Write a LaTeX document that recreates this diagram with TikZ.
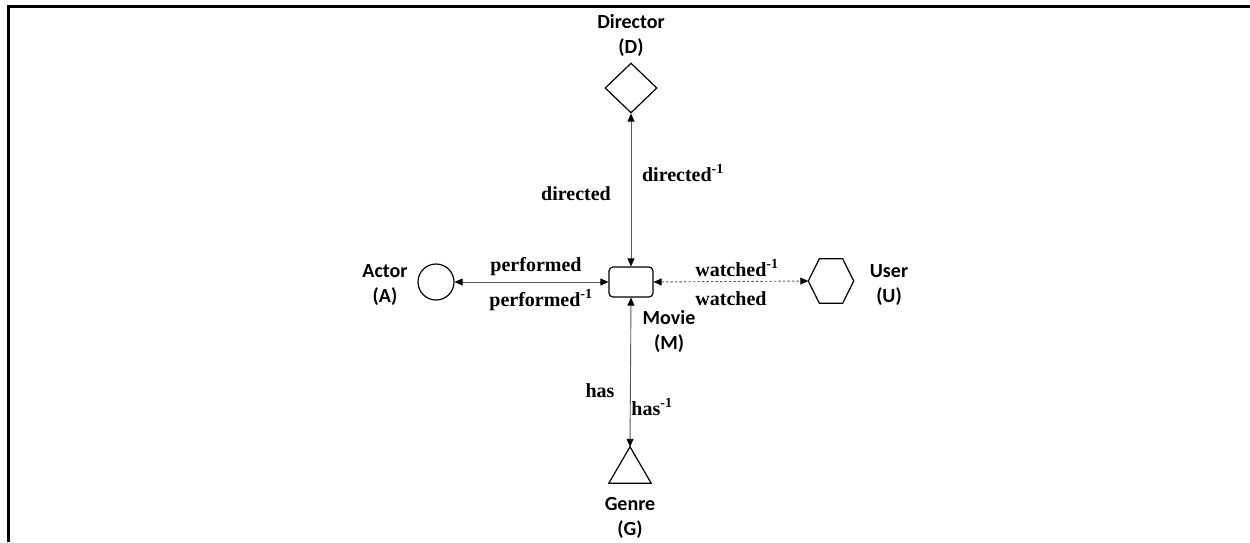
\documentclass[tikz,border=0pt]{standalone}
\usepackage{fontspec}
\setmainfont{Liberation Serif}
\newfontfamily\carl{Carlito}
\usetikzlibrary{arrows.meta,shapes.geometric}
\begin{document}
\begin{tikzpicture}[x=1pt,y=-1pt,
  ent/.style={font=\carl\bfseries\fontsize{20}{25}\selectfont, align=center, inner sep=0pt},
  rel/.style={font=\bfseries\fontsize{20}{24}\selectfont, inner sep=0pt},
  shp/.style={draw=black, line width=1.2pt},
  tip/.tip={Triangle[length=8pt,width=7pt,color=black,fill=black]},
  link/.style={draw=black!65, line width=0.9pt, tip-tip},
  dlink/.style={link, dash pattern=on 2.5pt off 2pt}
]
\useasboundingbox (0,0) rectangle (1250,542);
\fill[white] (0,0) rectangle (1250,542);
\draw[line width=3pt] (8,542) -- (8,6) -- (1260,6);

% shapes
\node[shp, diamond, minimum width=52pt, minimum height=50pt, inner sep=0pt] (D) at (631,88) {};
\node[shp, rectangle, rounded corners=4pt, minimum width=44pt, minimum height=30pt, inner sep=0pt] (M) at (631,282) {};
\node[shp, circle, minimum size=36pt, inner sep=0pt] (A) at (436,282) {};
\node[minimum width=45pt, minimum height=44pt, inner sep=0pt] (U) at (831,281) {};
\draw[shp] (U.west) -- ([xshift=11pt]U.north west) -- ([xshift=-11pt]U.north east) -- (U.east) -- ([xshift=-11pt]U.south east) -- ([xshift=11pt]U.south west) -- cycle;
\node[minimum width=42pt, minimum height=36pt, inner sep=0pt] (G) at (630,465) {};
\draw[shp] (G.north) -- (G.south east) -- (G.south west) -- cycle;

% entity labels
\node[ent] (Dl) at (631,35) {Director\\(D)};
\node[ent] (Al) at (385,285) {Actor\\(A)};
\node[ent] (Ml) at (669,331) {Movie\\(M)};
\node[ent] (Ul) at (889,285) {User\\(U)};
\node[ent] (Gl) at (630,518) {Genre\\(G)};

% connectors
\draw[link] (D.south) -- (M.north);
\draw[link] (A.east) -- (M.west);
\draw[dlink] (M.east) -- (U.west);
\draw[link] (M.south) -- (G.north);

% relation labels
\node[rel] (r1) at (576,194) {directed};
\node[rel] (r2) at (683,173) {directed\textsuperscript{-1}};
\node[rel] (r3) at (536,267) {performed};
\node[rel] (r4) at (541,300) {performed\textsuperscript{-1}};
\node[rel] (r5) at (737,268) {watched\textsuperscript{-1}};
\node[rel] (r6) at (731,299) {watched};
\node[rel] (r7) at (600,391) {has};
\node[rel] (r8) at (652,407) {has\textsuperscript{-1}};
\end{tikzpicture}
\end{document}
